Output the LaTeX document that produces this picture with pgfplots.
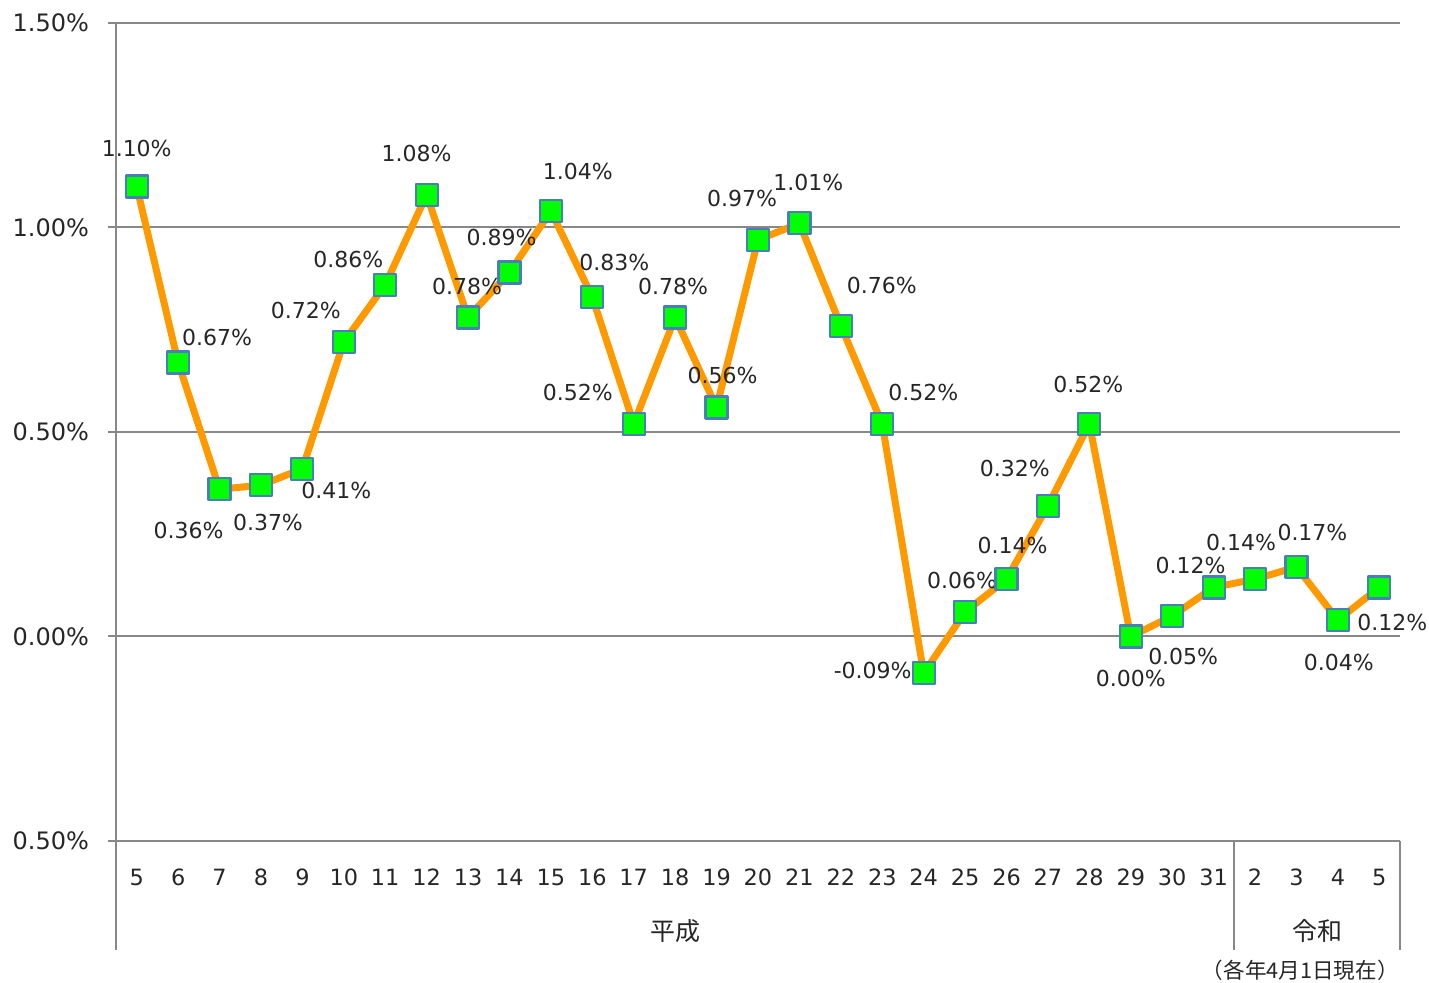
\documentclass[border=0pt]{standalone}
\usepackage{fontspec}
\setmainfont{DejaVu Sans}
\newfontfamily\cjk{Noto Sans CJK JP}
\usepackage{pgfplots}
\usepackage{pgfplotstable}
\pgfplotsset{compat=1.18}

\definecolor{lineorange}{HTML}{FF9900}
\definecolor{markgreen}{HTML}{00FF00}
\definecolor{markblue}{HTML}{4A7EBB}
\definecolor{gridgray}{HTML}{888888}

% x = index, y = rate (%), dx/dy = label offset in pt
\pgfplotstableread{
x  y     dx     dy
0  1.10  0      19
1  0.67  19.5   12.5
2  0.36  -15.5  -20.5
3  0.37  3.5    -18.5
4  0.41  17     -11
5  0.72  -19    16
6  0.86  -18.5  12.5
7  1.08  -5     20.5
8  0.78  -0.5   15.5
9  0.89  -4     17.5
10 1.04  13.5   20
11 0.83  11     17.5
12 0.52  -28    15.5
13 0.78  -1     15.5
14 0.56  3      16
15 0.97  -8     20.5
16 1.01  4.5    20.5
17 0.76  20.5   20
18 0.52  20.5   15.5
19 -0.09 -25.5  1.5
20 0.06  -1.5   15.5
21 0.14  3      17
22 0.32  -16.5  18.5
23 0.52  -0.5   19.5
24 0.00  0      -21
25 0.05  5.5    -20
26 0.12  -11.5  11
27 0.14  -7     18.5
28 0.17  8      17
29 0.04  0.5    -21
30 0.12  6.5    -17.5
}\ratedata

\begin{document}
\begin{tikzpicture}
\useasboundingbox (-58pt,-71pt) rectangle (656.5pt,420.5pt);
\begin{axis}[
    at={(0,0)}, anchor=south west,
    scale only axis,
    width=642pt, height=409pt,
    xmin=-0.5, xmax=30.5,
    ymin=-0.5, ymax=1.5,
    xtick=data,
    xticklabels={5,6,7,8,9,10,11,12,13,14,15,16,17,18,19,20,21,22,23,24,25,26,27,28,29,30,31,2,3,4,5},
    ytick={-0.5,0,0.5,1,1.5},
    yticklabels={0.50\%,0.00\%,0.50\%,1.00\%,1.50\%},
    ytick pos=left,
    ymajorgrids,
    grid style={gridgray, line width=1pt},
    axis line style={draw=none},
    tick align=outside,
    major tick length=4pt,
    ytick style={gridgray, line width=1pt},
    xtick style={draw=none},
    yticklabel style={font=\fontsize{12}{14}\selectfont, text=black!85, xshift=-6pt},
    xticklabel style={font=\fontsize{11.2}{13}\selectfont, text=black!85, anchor=center, yshift=-14pt},
    clip=false,
    /pgf/number format/assume math mode=true,
]
\addplot[lineorange, line width=3.5pt, line join=round,
    mark=square*, mark size=5.5pt,
    mark options={fill=markgreen, draw=markblue, line width=1.1pt},
    nodes near coords={\pgfmathprintnumber[fixed,fixed zerofill,precision=2]{\pgfplotspointmeta}\%},
    visualization depends on={\thisrow{dx}\as\dx},
    visualization depends on={\thisrow{dy}\as\dy},
    every node near coord/.append style={anchor=center, xshift=\dx, yshift=\dy,
        font=\fontsize{11}{13}\selectfont, text=black!85}]
    table[x=x, y=y] {\ratedata};

\draw[gridgray, line width=1pt] (axis cs:-0.5,1.5) -- ([yshift=-54.5pt]axis cs:-0.5,-0.5);
\draw[gridgray, line width=1pt] (axis cs:26.5,-0.5) -- ([yshift=-54.5pt]axis cs:26.5,-0.5);
\draw[gridgray, line width=1pt] (axis cs:30.5,-0.5) -- ([yshift=-54.5pt]axis cs:30.5,-0.5);
\node[font=\cjk\fontsize{12.5}{14}\selectfont, text=black!85] at ([yshift=-45pt]axis cs:13,-0.5) {平成};
\node[font=\cjk\fontsize{12.5}{14}\selectfont, text=black!85] at ([yshift=-45pt]axis cs:28.5,-0.5) {令和};
\node[anchor=east, inner sep=0pt, font=\cjk\fontsize{10.8}{12}\selectfont, text=black!85] at ([xshift=-0.5pt,yshift=-64.5pt]axis cs:30.5,-0.5) {（各年4月1日現在）};
\end{axis}
\end{tikzpicture}
\end{document}
